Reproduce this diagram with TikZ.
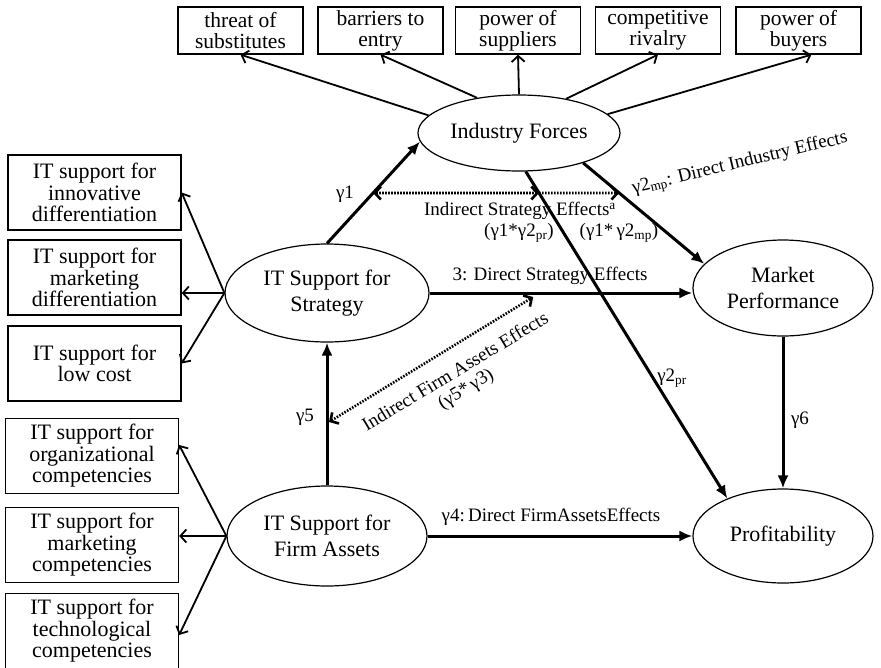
\documentclass[tikz,border=0pt]{standalone}
\usepackage{fontspec}
\setmainfont{Liberation Serif}
\usetikzlibrary{arrows.meta,shapes.geometric,calc}

\tikzset{
  factor/.style={ellipse, draw, line width=1.2pt, inner sep=0pt, align=center,
    font=\fontsize{22}{26}\selectfont},
  indicator/.style={rectangle, draw, line width=1.3pt, inner sep=0pt, align=center},
  topbox/.style={indicator, minimum width=125pt, minimum height=47pt,
    font=\fontsize{21.5}{21}\selectfont},
  sidebox/.style={indicator, minimum width=173pt, minimum height=75pt,
    font=\fontsize{22}{21.5}\selectfont},
  pathlabel/.style={inner sep=0pt, align=center, font=\fontsize{19}{20}\selectfont},
  barb/.tip={Straight Barb[length=6pt,width=13pt]},
  loading/.style={line width=1.8pt, -barb},
  effect/.style={line width=3pt, -{Latex[length=13pt,width=11pt]}},
  indirect/.style={line width=2.6pt, dash pattern=on 1.6pt off 1.4pt}
}

\begin{document}
\begin{tikzpicture}[x=1pt,y=-1pt]
\useasboundingbox (0,0) rectangle (881,667);

% latent constructs
\node[factor, minimum width=202pt, minimum height=76pt] (ind) at (519,133) {Industry Forces};
\node[factor, minimum width=204pt, minimum height=98pt] (strat) at (327,293) {IT Support for\\Strategy};
\node[factor, minimum width=180pt, minimum height=96pt] (mkt) at (783,288) {Market\\Performance};
\node[factor, minimum width=200pt, minimum height=100pt] (firm) at (327,536) {IT Support for\\Firm Assets};
\node[factor, minimum width=180pt, minimum height=94pt] (prof) at (783,536) {Profitability};

% industry force indicators
\node[topbox] (f1) at (240.5,30.5) {threat of\\substitutes};
\node[topbox] (f2) at (380.5,30.5) {barriers to\\entry};
\node[topbox] (f3) at (518,30.5) {power of\\suppliers};
\node[topbox] (f4) at (658,30.5) {competitive\\rivalry};
\node[topbox] (f5) at (798.5,30.5) {power of\\buyers};

% strategy indicators
\node[sidebox] (s1) at (94.5,192.5) {IT support for\\innovative\\differentiation};
\node[sidebox] (s2) at (94.5,277.5) {IT support for\\marketing\\differentiation};
\node[sidebox] (s3) at (94.5,363.5) {IT support for\\low cost};

% firm asset indicators
\node[sidebox] (a1) at (92,456) {IT support for\\organizational\\competencies};
\node[sidebox] (a2) at (92,545) {IT support for\\marketing\\competencies};
\node[sidebox] (a3) at (92,631) {IT support for\\technological\\competencies};

% measurement paths
\draw[loading] (ind.169) -- (f1.south);
\draw[loading] (ind.140) -- (f2.south);
\draw[loading] (ind.north) -- (f3.south);
\draw[loading] (ind.36) -- (f4.south);
\draw[loading] (ind.12) -- ($(f5.south)+(13,0)$);

\draw[loading] (strat.west) -- (s1.east);
\draw[loading] (strat.west) -- (strat.west -| s2.east);
\draw[loading] (strat.west) -- (s3.east);

\draw[loading] (firm.west) -- ($(a1.east)+(0,-11)$);
\draw[loading] (firm.west) -- (firm.west -| a2.east);
\draw[loading] (firm.west) -- ($(a3.east)+(0,4)$);

% structural paths
\draw[effect] (strat.north) -- (ind.185);
\draw[effect] (ind.-25) -- (mkt.163);
\draw[effect] (ind.-80) -- (prof.146);
\draw[effect] (strat.east) -- (strat.east -| mkt.west);
\draw[effect] (firm.east) -- (prof.west);
\draw[effect] (firm.north) -- (strat.south);
\draw[effect] (mkt.south) -- (prof.north);

% indirect effects
\coordinate (gA) at (strat.north);
\coordinate (gB) at (ind.185);
\coordinate (pA) at (ind.-80);
\coordinate (pB) at (prof.146);
\coordinate (mA) at (ind.-25);
\coordinate (mB) at (mkt.163);
\coordinate (hL) at (300,193);
\coordinate (hR) at (720,193);
\coordinate (d1) at (intersection of gA--gB and hL--hR);
\coordinate (d2) at (intersection of pA--pB and hL--hR);
\coordinate (d3) at (intersection of mA--mB and hL--hR);
\draw[indirect, barb-barb] (d1) -- (d2);
\draw[indirect, -barb] (d2) -- (d3);

\coordinate (e1) at ($(firm.north)!0.444!(strat.south)+(2,0)$);
\coordinate (e2) at ($(strat.east)!0.394!(strat.east -| mkt.west)+(0,4)$);
\draw[indirect, barb-barb] (e1) -- (e2);

% path labels
\node[pathlabel] (l1) at (345,194) {γ1};
\node[pathlabel] (l5) at (305,417) {γ5};
\node[pathlabel] (l6) at (800,420) {γ6};
\node[pathlabel] (l2pr) at (672,378) {γ2\textsubscript{pr}};
\node[pathlabel, rotate=13.5] (l2mp) at (740,164) {γ2\textsubscript{mp}: Direct Industry Effects};
\node[pathlabel] (lis) at (520,211) {Indirect Strategy Effects\textsuperscript{a}};
\node[pathlabel] (lispr) at (519,233) {(γ1*γ2\textsubscript{pr})};
\node[pathlabel] (lismp) at (619,233) {(γ1*\,γ2\textsubscript{mp})};
\node[pathlabel] (l3) at (550,276) {3: Direct Strategy Effects};
\node[pathlabel] (l4) at (551,517) {γ4:\,Direct FirmAssetsEffects};
\node[pathlabel, rotate=31] (lif) at (461,381) {Indirect Firm Assets Effects\\(γ5*\,γ3)};
\end{tikzpicture}
\end{document}
